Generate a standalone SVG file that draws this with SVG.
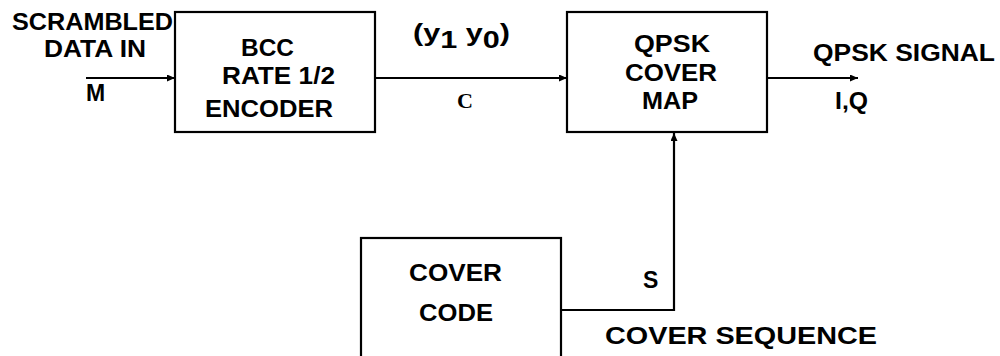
<svg xmlns="http://www.w3.org/2000/svg" width="1000" height="356" viewBox="0 0 1000 356">
<style>
.box{fill:#fff;stroke:#000;stroke-width:2.2}
.ln{fill:none;stroke:#000;stroke-width:2.2}
.t{font-family:"Liberation Sans",Arial,sans-serif;font-weight:bold;font-size:23px;fill:#000}
.s{font-family:"Liberation Serif","Times New Roman",serif;font-weight:bold;font-size:20px;fill:#000}
</style>
<defs>
<marker id="ah" markerWidth="9" markerHeight="7" refX="8" refY="3.5" orient="auto" markerUnits="userSpaceOnUse">
<path d="M0,0 L8,3.5 L0,7 Z" fill="#000"/>
</marker>
</defs>
<rect width="1000" height="356" fill="#fff"/>
<g id="connectors">
<line class="ln" x1="86" y1="78" x2="175" y2="78" marker-end="url(#ah)"/>
<line class="ln" x1="375" y1="78" x2="567" y2="78" marker-end="url(#ah)"/>
<line class="ln" x1="767" y1="78" x2="858" y2="78" marker-end="url(#ah)"/>
<polyline class="ln" points="561,310 674,310 674,133" marker-end="url(#ah)"/>
</g>
<g id="labels">
<text class="t" x="12" y="30" textLength="161" lengthAdjust="spacingAndGlyphs">SCRAMBLED</text>
<text class="t" x="44" y="57" textLength="102" lengthAdjust="spacingAndGlyphs">DATA IN</text>
<text class="t" x="86" y="101">M</text>
<text class="t" x="413" y="41" font-size="27" textLength="97" lengthAdjust="spacingAndGlyphs">(y<tspan dy="7" font-size="23">1</tspan><tspan dy="-7"> y</tspan><tspan dy="7" font-size="23">0</tspan><tspan dy="-7">)</tspan></text>
<text class="s" x="457" y="108" textLength="16" lengthAdjust="spacingAndGlyphs">C</text>
<text class="t" x="813" y="61" textLength="182" lengthAdjust="spacingAndGlyphs">QPSK SIGNAL</text>
<text class="t" x="835" y="109" textLength="33" lengthAdjust="spacingAndGlyphs">I,Q</text>
<text class="t" x="643" y="288">S</text>
<text class="t" x="605" y="344" textLength="272" lengthAdjust="spacingAndGlyphs">COVER SEQUENCE</text>
</g>
<g id="encoder">
<rect class="box" x="175" y="12" width="200" height="120"/>
<text class="t" x="241" y="56" textLength="53" lengthAdjust="spacingAndGlyphs">BCC</text>
<text class="t" x="222" y="84" textLength="113" lengthAdjust="spacingAndGlyphs">RATE 1/2</text>
<text class="t" x="205" y="117" textLength="128" lengthAdjust="spacingAndGlyphs">ENCODER</text>
</g>
<g id="qpsk">
<rect class="box" x="567" y="12" width="200" height="120"/>
<text class="t" x="634" y="52" textLength="76" lengthAdjust="spacingAndGlyphs">QPSK</text>
<text class="t" x="625" y="81" textLength="92" lengthAdjust="spacingAndGlyphs">COVER</text>
<text class="t" x="642" y="109" textLength="56" lengthAdjust="spacingAndGlyphs">MAP</text>
</g>
<g id="cover">
<rect class="box" x="361" y="238" width="200" height="130"/>
<text class="t" x="409" y="281" textLength="93" lengthAdjust="spacingAndGlyphs">COVER</text>
<text class="t" x="419" y="321" textLength="74" lengthAdjust="spacingAndGlyphs">CODE</text>
</g>
</svg>
